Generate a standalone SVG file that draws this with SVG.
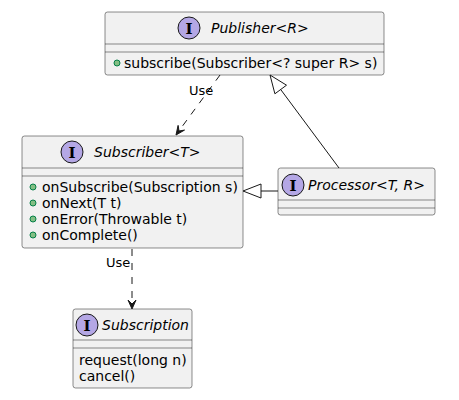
<svg xmlns="http://www.w3.org/2000/svg" width="459" height="400" viewBox="0 0 459 400">
<style>
.box{fill:#F1F1F1;stroke:#181818;stroke-width:0.5}
.sep{stroke:#181818;stroke-width:0.5}
.ico{fill:#B4A7E5;stroke:#181818;stroke-width:1}
.icol{font-family:"DejaVu Serif","Liberation Serif",serif;font-weight:bold;font-size:15px;fill:#000;text-anchor:middle}
.title{font-family:"DejaVu Sans","Liberation Sans",sans-serif;font-style:italic;font-size:14px;fill:#000}
.mem{font-family:"DejaVu Sans","Liberation Sans",sans-serif;font-size:14px;fill:#000}
.pub{fill:#84BE84;stroke:#038048;stroke-width:1}
.lbl{font-family:"DejaVu Sans","Liberation Sans",sans-serif;font-size:13px;fill:#000}
.ln{fill:none;stroke:#181818;stroke-width:1}
.dash{stroke-dasharray:7,7}
.head{fill:#181818;stroke:#181818;stroke-width:1}
.tri{fill:none;stroke:#181818;stroke-width:1}
</style>
<g id="Publisher">
<rect class="box" x="105" y="12" width="279" height="63" rx="2.5"/>
<circle class="ico" cx="189" cy="28" r="11"/>
<text class="icol" x="189" y="33.5">I</text>
<text class="title" x="211" y="33">Publisher&lt;R&gt;</text>
<line class="sep" x1="105" y1="44" x2="384" y2="44"/>
<line class="sep" x1="105" y1="52" x2="384" y2="52"/>
<circle class="pub" cx="117" cy="63" r="3"/>
<text class="mem" x="124" y="68">subscribe(Subscriber&lt;? super R&gt; s)</text>
</g>
<g id="Subscriber">
<rect class="box" x="22" y="136" width="221" height="112" rx="2.5"/>
<circle class="ico" cx="72" cy="152" r="11"/>
<text class="icol" x="72" y="157.5">I</text>
<text class="title" x="94" y="157">Subscriber&lt;T&gt;</text>
<line class="sep" x1="22" y1="168" x2="243" y2="168"/>
<line class="sep" x1="22" y1="176" x2="243" y2="176"/>
<circle class="pub" cx="33" cy="187" r="3"/>
<text class="mem" x="42" y="192">onSubscribe(Subscription s)</text>
<circle class="pub" cx="33" cy="203" r="3"/>
<text class="mem" x="42" y="208">onNext(T t)</text>
<circle class="pub" cx="33" cy="219" r="3"/>
<text class="mem" x="42" y="224">onError(Throwable t)</text>
<circle class="pub" cx="33" cy="235" r="3"/>
<text class="mem" x="42" y="240">onComplete()</text>
</g>
<g id="Processor">
<rect class="box" x="278" y="168" width="157" height="47" rx="2.5"/>
<circle class="ico" cx="293" cy="185" r="11"/>
<text class="icol" x="293" y="190.5">I</text>
<text class="title" x="308" y="190">Processor&lt;T, R&gt;</text>
<line class="sep" x1="278" y1="200" x2="435" y2="200"/>
<line class="sep" x1="278" y1="208" x2="435" y2="208"/>
</g>
<g id="Subscription">
<rect class="box" x="73" y="309" width="119" height="79" rx="2.5"/>
<circle class="ico" cx="87" cy="325" r="11"/>
<text class="icol" x="87" y="330.5">I</text>
<text class="title" x="102" y="330">Subscription</text>
<line class="sep" x1="73" y1="340" x2="192" y2="340"/>
<line class="sep" x1="73" y1="348" x2="192" y2="348"/>
<text class="mem" x="79" y="365">request(long n)</text>
<text class="mem" x="79" y="381">cancel()</text>
</g>
<g id="connectors">
<line class="ln dash" x1="220" y1="75" x2="178.5" y2="131.5"/>
<polygon class="head" points="176,135 184.5,130.1 179,131 178.1,125.4"/>
<text class="lbl" x="189" y="95">Use</text>
<line class="ln" x1="339" y1="168" x2="280.7" y2="89.5"/>
<polygon class="tri" points="270,75 286.5,85.2 274.9,93.8"/>
<line class="ln" x1="278" y1="191" x2="261" y2="191"/>
<polygon class="tri" points="243,191 261,184 261,198"/>
<line class="ln dash" x1="132" y1="249" x2="132" y2="305"/>
<polygon class="head" points="132,309 128,300 132,304 136,300"/>
<text class="lbl" x="106" y="267">Use</text>
</g>
</svg>
